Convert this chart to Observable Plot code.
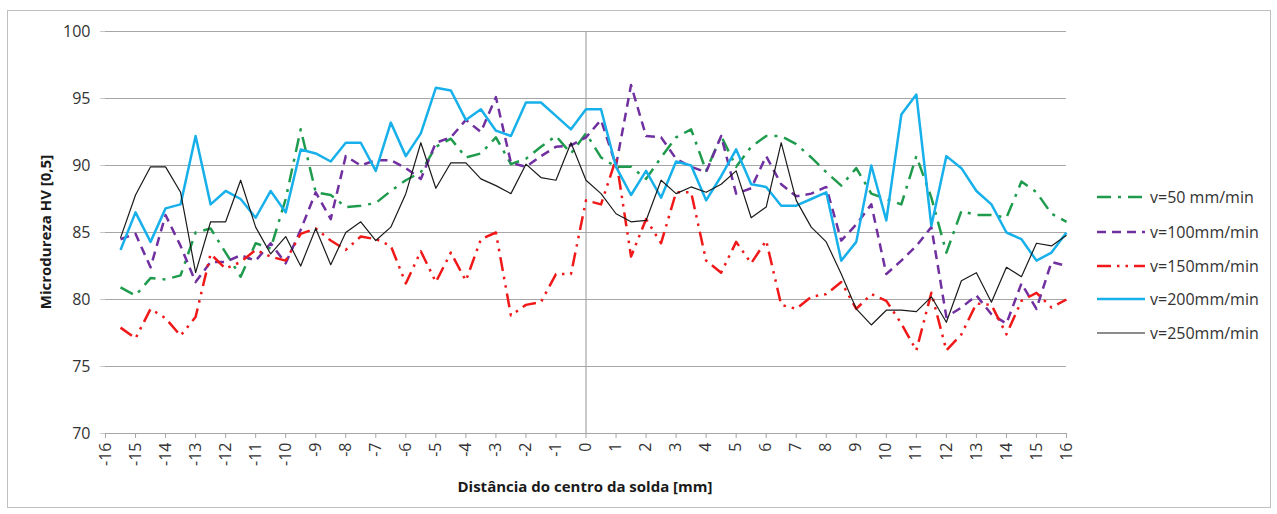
<!DOCTYPE html>
<html>
<head>
<meta charset="utf-8">
<script src="https://cdn.jsdelivr.net/npm/d3@7"></script>
<script src="https://cdn.jsdelivr.net/npm/@observablehq/plot@0.6"></script>
<style>
  html, body { margin: 0; padding: 0; background: #fff; }
  #wrap { position: relative; width: 1277px; height: 514px; overflow: hidden; font-family: "Open Sans", sans-serif; }
  #frame { position: absolute; left: 7px; top: 10px; width: 1264px; height: 498px; border: 1px solid #bfbfbf; box-sizing: border-box; }
  #chart { position: absolute; left: 0; top: 0; }
  .ttl { position: absolute; font-weight: bold; font-size: 15px; color: #1a1a1a; white-space: nowrap; }
  #xt { left: 585px; top: 476px; transform: translateX(-50%); }
  #yt { left: 45px; top: 232px; transform: translate(-50%, -50%) rotate(-90deg); }
  #legend { position: absolute; left: 1090px; top: 180px; }
</style>
</head>
<body>
<div id="wrap">
  <div id="frame"></div>
  <div id="chart"></div>
  <div class="ttl" id="xt">Distância do centro da solda [mm]</div>
  <div class="ttl" id="yt">Microdureza HV [0,5]</div>
  <div id="legend"></div>
</div>
<script>
// Distance from weld centre (mm)
const distance = [-15.5,-15,-14.5,-14,-13.5,-13,-12.5,-12,-11.5,-11,-10.5,-10,-9.5,-9,-8.5,-8,-7.5,-7,-6.5,-6,-5.5,-5,-4.5,-4,-3.5,-3,-2.5,-2,-1.5,-1,-0.5,0,0.5,1,1.5,2,2.5,3,3.5,4,4.5,5,5.5,6,6.5,7,7.5,8,8.5,9,9.5,10,10.5,11,11.5,12,12.5,13,13.5,14,14.5,15,15.5,16];

const v50 = [80.9,80.3,81.6,81.5,81.8,85.0,85.3,83.5,81.7,84.2,83.8,87.5,92.7,88.0,87.8,86.9,87.0,87.2,88.1,88.9,89.5,91.4,92.0,90.6,90.9,92.1,90.1,90.5,91.4,92.2,90.9,92.4,90.6,89.9,89.9,89.0,90.6,92.1,92.7,89.6,92.2,89.9,91.4,92.2,92.2,91.6,90.6,89.5,88.5,89.8,87.9,87.5,87.1,90.7,87.6,83.5,86.6,86.3,86.3,86.1,88.8,88.0,86.4,85.8];

const v100 = [84.5,84.9,82.4,86.3,84.0,81.3,82.8,82.8,83.3,82.9,84.2,82.7,85.2,88.0,86.0,90.7,90.0,90.4,90.4,89.8,89.0,91.7,92.1,93.4,92.5,95.1,90.2,89.9,90.7,91.4,91.5,92.1,93.4,90.0,96.0,92.2,92.1,90.5,89.9,89.5,92.2,87.9,88.3,90.7,88.6,87.7,87.9,88.4,84.4,85.6,87.1,81.9,82.9,84.0,85.4,78.7,79.4,80.3,78.9,78.2,81.2,79.3,82.8,82.5];

const v150 = [77.9,77.1,79.3,78.6,77.3,78.7,83.4,82.3,82.8,83.7,83.2,82.9,84.9,85.3,84.4,83.7,84.7,84.5,84.0,81.2,83.6,81.3,83.5,81.4,84.5,85.0,78.8,79.6,79.8,81.9,81.9,87.4,87.1,90.5,83.2,86.0,84.2,88.0,88.0,82.9,82.0,84.3,82.7,84.4,79.6,79.3,80.2,80.4,81.3,79.3,80.4,79.9,78.2,76.2,80.5,76.2,77.4,79.7,79.6,77.4,79.9,80.5,79.4,80.0];

const v200 = [83.7,86.5,84.3,86.8,87.1,92.2,87.1,88.1,87.5,86.1,88.1,86.5,91.2,90.9,90.3,91.7,91.7,89.6,93.2,90.7,92.4,95.8,95.6,93.4,94.2,92.6,92.2,94.7,94.7,93.7,92.7,94.2,94.2,89.9,87.8,89.6,87.6,90.3,90.0,87.4,89.2,91.2,88.6,88.4,87.0,87.0,87.5,88.0,82.9,84.3,90.0,85.9,93.8,95.3,85.5,90.7,89.8,88.1,87.1,85.0,84.5,82.9,83.5,85.0];

const v250 = [84.6,87.8,89.9,89.9,88.0,82.0,85.8,85.8,88.9,85.4,83.4,84.7,82.5,85.3,82.6,85.0,85.8,84.4,85.4,87.9,91.7,88.3,90.2,90.2,89.0,88.5,87.9,90.1,89.1,88.9,91.7,88.9,87.9,86.4,85.8,85.9,88.9,87.9,88.4,88.0,88.6,89.6,86.1,86.9,91.7,87.4,85.4,84.3,81.9,79.3,78.1,79.2,79.2,79.1,80.2,78.3,81.4,82.0,79.8,82.4,81.7,84.2,84.0,84.8];

const seriesNames = ["v=50 mm/min","v=100mm/min","v=150mm/min","v=200mm/min","v=250mm/min"];
const xTicks = d3.range(-16, 17, 1);
const yTicks = [70, 75, 80, 85, 90, 95, 100];

const styles = [
  {color: "#1f9b4d", dash: "14,7,3,7", width: 2.5},
  {color: "#7030a0", dash: "9,6", width: 2.5},
  {color: "#f01818", dash: "14,6,2.5,6,2.5,6", width: 2.5},
  {color: "#18b0ea", dash: null, width: 2.5},
  {color: "#1a1a1a", dash: null, width: 1.2}
];
const allValues = [v50, v100, v150, v200, v250];

const lineMarks = allValues.map((vals, k) => {
  const rows = distance.map((d, i) => ({x: d, y: vals[i], s: seriesNames[k]}));
  const opts = {x: "x", y: "y", stroke: styles[k].color, strokeWidth: styles[k].width, strokeLinejoin: "round", strokeLinecap: "butt"};
  if (styles[k].dash) opts.strokeDasharray = styles[k].dash;
  return Plot.line(rows, opts);
});

const chart = Plot.plot({
  width: 1277,
  height: 514,
  marginLeft: 105,
  marginRight: 211,
  marginTop: 31,
  marginBottom: 81,
  style: {fontFamily: "Open Sans, sans-serif", fontSize: "16px", color: "#333", background: "transparent"},
  x: {domain: [-16, 16]},
  y: {domain: [70, 100]},
  marks: [
    Plot.gridY(yTicks.filter(t => t > 70), {stroke: "#a6a6a6", strokeOpacity: 1, strokeWidth: 1}),
    Plot.ruleX([0], {stroke: "#a6a6a6", strokeWidth: 1.2}),
    Plot.ruleY([70], {stroke: "#a6a6a6", strokeWidth: 1}),
    Plot.axisX({ticks: xTicks, tickFormat: d => String(d), tickRotate: -90, tickSize: 5, tickPadding: 4, stroke: "#a6a6a6", strokeOpacity: 1, label: null, fontSize: 16, fill: "#333"}),
    Plot.axisY({ticks: yTicks, tickFormat: d => String(d), tickSize: 5, tickPadding: 10, stroke: "#c8c8c8", strokeOpacity: 1, label: null, fontSize: 16, fill: "#333"}),
    ...lineMarks
  ]
});
document.getElementById("chart").appendChild(chart);

// Legend
const lg = d3.select("#legend").append("svg").attr("width", 187).attr("height", 175)
  .style("font-family", "Open Sans, sans-serif").style("font-size", "16px");
const rowY = [17, 52, 86, 119, 153];
seriesNames.forEach((name, k) => {
  const g = lg.append("g").attr("transform", `translate(0,${rowY[k]})`);
  const ln = g.append("line").attr("x1", 7).attr("x2", 55).attr("y1", 0).attr("y2", 0)
    .attr("stroke", styles[k].color).attr("stroke-width", styles[k].width);
  if (styles[k].dash) ln.attr("stroke-dasharray", styles[k].dash);
  g.append("text").attr("x", 60).attr("y", 0).attr("dy", "0.35em").attr("fill", "#333").text(name);
});
</script>
</body>
</html>
